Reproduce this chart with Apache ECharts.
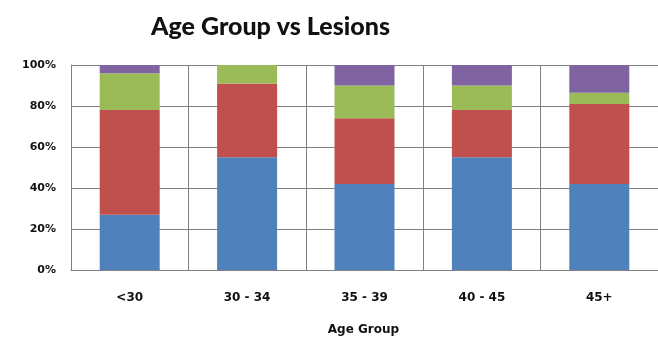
<!DOCTYPE html>
<html>
<head>
<meta charset="utf-8">
<script src="https://cdn.jsdelivr.net/npm/echarts@6/dist/echarts.min.js"></script>
<style>
  html, body { margin: 0; padding: 0; background: #fff; }
  #chart { width: 658px; height: 341px; }
</style>
</head>
<body>
<div id="chart"></div>
<script>
// Age groups on the x axis
const categories = ['<30', '30 - 34', '35 - 39', '40 - 45', '45+'];
// Share of each lesion type within an age group (percent)
const seriesA = [27, 55, 42, 55, 42];   // blue
const seriesB = [51, 36, 32, 23, 39];   // red
const seriesC = [18, 9, 16, 12, 5.5];   // green
const seriesD = [4, 0, 10, 10, 13.5];   // purple
const yTicks = [0, 20, 40, 60, 80, 100];

const colors = ['#4F81BD', '#C0504D', '#9BBB59', '#8064A2'];
const stacks = [seriesA, seriesB, seriesC, seriesD];
const labelFont = 'DejaVu Sans';

const chart = echarts.init(document.getElementById('chart'));
chart.setOption({
  animation: false,
  title: {
    text: 'Age Group vs Lesions',
    left: 146,
    top: 9,
    textStyle: { fontFamily: 'Lato', fontWeight: 900, fontSize: 25, color: '#111' }
  },
  grid: { left: 71, top: 65, width: 594, height: 206 },
  xAxis: {
    type: 'category',
    data: categories,
    name: 'Age Group',
    nameLocation: 'middle',
    nameGap: 54,
    nameTextStyle: { fontFamily: labelFont, fontWeight: 'bold', fontSize: 12, color: '#111', padding: [0, 0, 0, -2] },
    axisLine: { lineStyle: { color: '#808080', width: 1 } },
    axisTick: { show: false },
    axisLabel: { margin: 22, fontFamily: labelFont, fontWeight: 'bold', fontSize: 12, color: '#111' },
    splitLine: { show: true, lineStyle: { color: '#808080', width: 1 } }
  },
  yAxis: {
    type: 'value',
    min: yTicks[0],
    max: yTicks[yTicks.length - 1],
    interval: 20,
    axisLine: { show: true, lineStyle: { color: '#808080', width: 1 } },
    axisTick: { show: false },
    axisLabel: { margin: 15, fontFamily: labelFont, fontWeight: 'bold', fontSize: 11, color: '#111',
      formatter: v => v + '%' },
    splitLine: { show: true, lineStyle: { color: '#808080', width: 1 } }
  },
  series: stacks.map((d, i) => ({
    type: 'bar',
    stack: 'total',
    data: d,
    barWidth: 60,
    itemStyle: { color: colors[i] }
  }))
});
</script>
</body>
</html>
